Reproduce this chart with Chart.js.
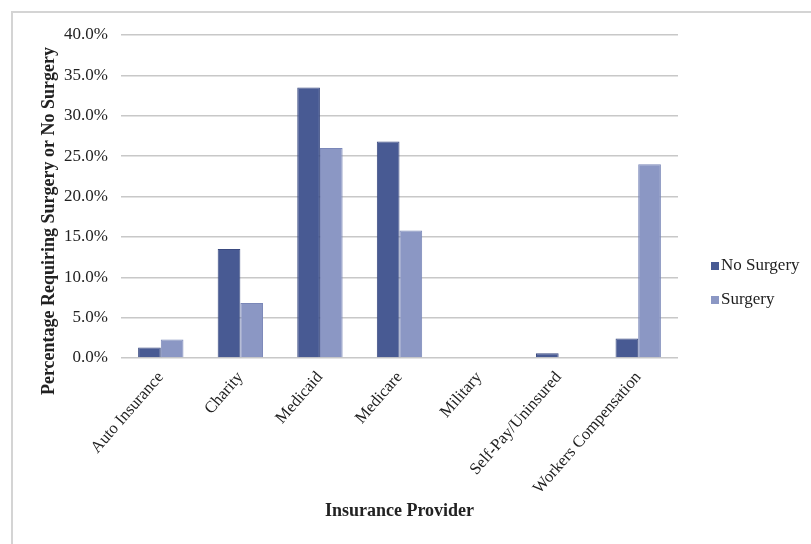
<!DOCTYPE html>
<html>
<head>
<meta charset="utf-8">
<script src="https://cdn.jsdelivr.net/npm/chart.js@4"></script>
<style>
  html, body { margin: 0; padding: 0; background: #fff; }
  #wrap { position: relative; width: 811px; height: 544px; }
  #frame { position: absolute; left: 11px; top: 11px; right: 0; bottom: 0;
           border-left: 2px solid #d4d4d4; border-top: 2px solid #d4d4d4; }
</style>
</head>
<body>
<div id="wrap">
  <div id="frame"></div>
  <canvas id="myChart" width="811" height="544"></canvas>
</div>
<script>
// categories and values (percent)
const providers = ['Auto Insurance', 'Charity', 'Medicaid', 'Medicare', 'Military', 'Self-Pay/Uninsured', 'Workers Compensation'];
const noSurgery = [1.3, 13.5, 33.5, 26.8, 0, 0.6, 2.4];
const surgery = [2.3, 6.8, 26.0, 15.8, 0, 0, 24.0];
const yTicks = [0, 5, 10, 15, 20, 25, 30, 35, 40];
const yTitle = 'Percentage Requiring Surgery or No Surgery';

const serif = "'Liberation Serif', 'Times New Roman', serif";

// legend on the right and the y title, placed like the original
const extras = {
    id: 'extras',
    afterDraw(chart) {
        const ctx = chart.ctx;
        ctx.save();
        ctx.font = '17px ' + serif;
        ctx.textBaseline = 'middle';
        chart.data.datasets.forEach((ds, i) => {
            const y = 266 + i * 34;
            ctx.fillStyle = ds.backgroundColor;
            ctx.fillRect(711, y - 4, 8, 8);
            ctx.fillStyle = '#222';
            ctx.fillText(ds.label, 721, y);
        });
        ctx.translate(49, 221);
        ctx.rotate(-Math.PI / 2);
        ctx.font = 'bold 18px ' + serif;
        ctx.textAlign = 'center';
        ctx.fillText(yTitle, 0, 0);
        ctx.restore();
    }
};

const config = {
    type: 'bar',
    data: {
        labels: providers,
        datasets: [{
            label: 'No Surgery',
            data: noSurgery,
            backgroundColor: '#485a93',
            borderColor: '#3a4a80',
            borderWidth: 1
        }, {
            label: 'Surgery',
            data: surgery,
            backgroundColor: '#8b97c4',
            borderColor: '#7a87b8',
            borderWidth: 1
        }]
    },
    options: {
        responsive: false,
        animation: false,
        events: [],
        layout: { padding: { left: 12, right: 133, top: 35, bottom: 22 } },
        datasets: { bar: { categoryPercentage: 0.57, barPercentage: 1 } },
        plugins: {
            legend: { display: false },
            tooltip: { enabled: false }
        },
        scales: {
            x: {
                grid: { display: false },
                border: { display: false },
                ticks: {
                    color: '#222',
                    font: { family: serif, size: 16.5 },
                    minRotation: 49,
                    maxRotation: 49,
                    autoSkip: false,
                    padding: 2
                },
                title: {
                    display: true,
                    text: 'Insurance Provider',
                    color: '#222',
                    font: { family: serif, size: 18, weight: 'bold' },
                    padding: { top: 4, bottom: 0 }
                },
                afterFit(scale) { scale.height = 544 - 358 - 22; }
            },
            y: {
                min: 0,
                max: 40,
                afterBuildTicks(scale) { scale.ticks = yTicks.map(v => ({ value: v })); },
                ticks: {
                    color: '#222',
                    font: { family: serif, size: 17 },
                    padding: 13,
                    callback: v => v.toFixed(1) + '%'
                },
                grid: { color: '#c8c8c8', lineWidth: 1.5, drawTicks: false },
                border: { display: false },
                afterFit(scale) { scale.width = 121 - 12; }
            }
        }
    },
    plugins: [extras]
};

const myChart = new Chart(document.getElementById('myChart'), config);
</script>
</body>
</html>
